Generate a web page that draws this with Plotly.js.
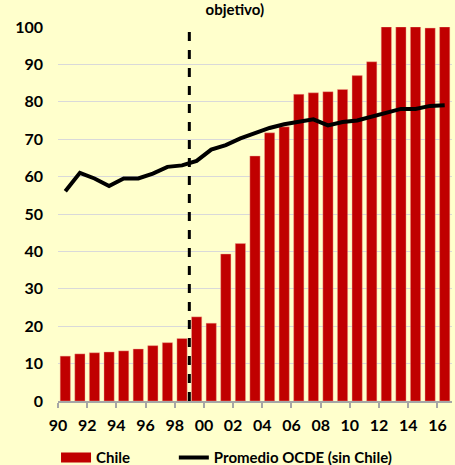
<!DOCTYPE html>
<html>
<head>
<meta charset="utf-8">
<script src="https://cdn.plot.ly/plotly-3.0.1.min.js"></script>
<style>
html,body{margin:0;padding:0;background:#FFFFCC;}
#chart{width:455px;height:465px;}
</style>
</head>
<body>
<div id="chart"></div>
<script>
const years = [1990,1991,1992,1993,1994,1995,1996,1997,1998,1999,2000,2001,2002,2003,2004,2005,2006,2007,2008,2009,2010,2011,2012,2013,2014,2015,2016];
const chile = [12.0,12.6,12.9,13.1,13.4,13.9,14.8,15.6,16.7,22.5,20.8,39.3,42.1,65.5,71.7,73.3,82.0,82.4,82.7,83.3,87.0,90.7,100.0,100.0,100.0,99.7,100.0];
const ocde = [56.1,61.0,59.5,57.5,59.5,59.5,60.8,62.6,63.0,64.2,67.2,68.4,70.2,71.5,73.0,74.0,74.6,75.3,73.7,74.6,75.0,76.1,77.0,78.1,78.1,78.9,79.1];
const tickLabels = ['90','92','94','96','98','00','02','04','06','08','10','12','14','16'];
const tickYears = [1990,1992,1994,1996,1998,2000,2002,2004,2006,2008,2010,2012,2014,2016];
const breakYear = 1998.5;
const seriesNames = ['Chile','Promedio OCDE (sin Chile)'];
const titleText = 'objetivo)';

const fam = 'Lato, "Open Sans", sans-serif';
const boldFont = (s) => ({family:fam, size:s, color:'#000000', weight:700});

const traces = [
  {type:'bar', x:years, y:chile, name:seriesNames[0], showlegend:false, legendgroup:'chile',
   marker:{color:'#C00000', line:{color:'rgba(240,170,150,0.7)', width:0.6}},
   hoverinfo:'x+y'},
  // legend key for the bars (wide red rectangle like the reference)
  {type:'scatter', mode:'lines', x:[null], y:[null], name:seriesNames[0], legendgroup:'chile',
   legend:'legend', line:{color:'#C00000', width:11}, hoverinfo:'skip'},
  {type:'scatter', mode:'lines', x:years, y:ocde, name:seriesNames[1], legend:'legend2',
   line:{color:'#000000', width:4}, hoverinfo:'x+y'}
];

const legendBase = {orientation:'h', xanchor:'left', y:-0.152, yanchor:'middle',
  bgcolor:'rgba(0,0,0,0)', font:boldFont(15), itemwidth:30};

const layout = {
  width:455, height:465,
  paper_bgcolor:'#FFFFCC', plot_bgcolor:'#FFFFCC',
  margin:{l:58, r:3, t:27, b:64, autoexpand:false},
  font:boldFont(16),
  showlegend:true,
  bargap:0.3,
  title:{text:titleText, font:boldFont(15),
         x:0.516, xref:'container', xanchor:'center', y:0.99, yref:'container', yanchor:'top',
         pad:{t:0,b:0,l:0,r:0}},
  xaxis:{
    range:[years[0]-0.5, years[years.length-1]+0.5],
    tickmode:'array',
    tickvals:tickYears.map(v=>v-0.5),
    ticktext:tickLabels,
    ticklabelshift:7.3,
    ticks:'outside', ticklen:5, tickwidth:2, tickcolor:'#A6A6A6',
    showline:true, linecolor:'#A6A6A6', linewidth:2,
    showgrid:false, zeroline:false,
    tickfont:boldFont(16),
    ticklabelstandoff:4,
    fixedrange:true
  },
  yaxis:{
    range:[0,100], dtick:10, tick0:0,
    showgrid:true, gridcolor:'#D9D9D9', gridwidth:1,
    zeroline:false, showline:false, ticks:'',
    tickfont:boldFont(16),
    ticklabelstandoff:14,
    fixedrange:true
  },
  shapes:[{type:'line', xref:'x', yref:'y', x0:breakYear, x1:breakYear, y0:0, y1:99.4,
           line:{color:'#000', width:3, dash:'dash'}, layer:'above'}],
  legend:Object.assign({}, legendBase, {x:-0.005}),
  legend2:Object.assign({}, legendBase, {x:0.294})
};

Plotly.newPlot('chart', traces, layout, {displayModeBar:false, staticPlot:true});
</script>
</body>
</html>
